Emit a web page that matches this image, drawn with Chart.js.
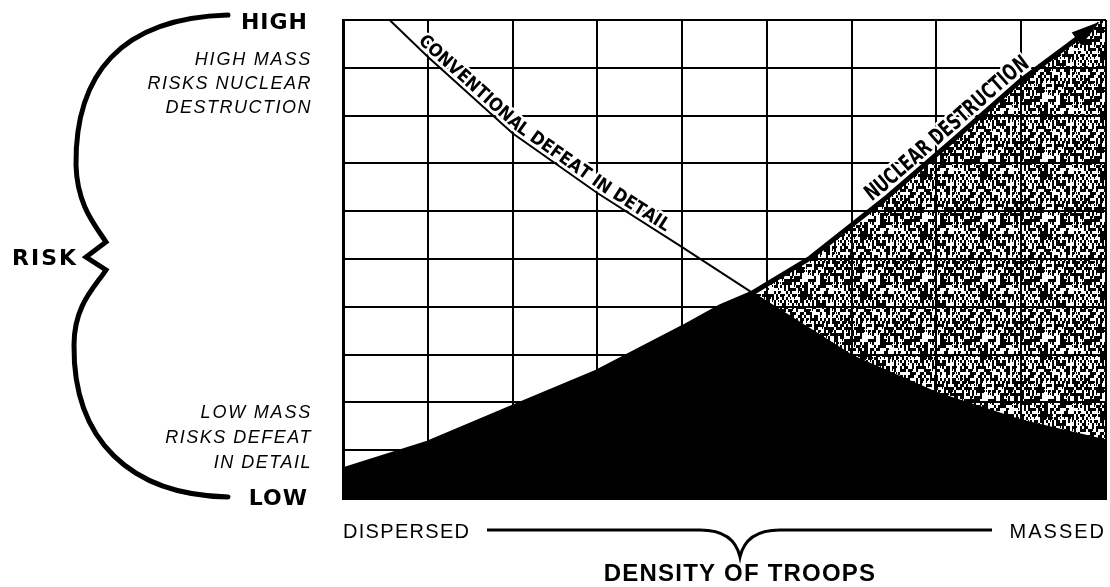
<!DOCTYPE html>
<html>
<head>
<meta charset="utf-8">
<script src="https://cdn.jsdelivr.net/npm/chart.js"></script>
<style>
  html, body { margin: 0; padding: 0; background: #fff; }
  #riskChart { display: block; }
</style>
</head>
<body>
<canvas id="riskChart" width="1110" height="587"></canvas>
<script>
// density of troops runs 0..9 (dispersed -> massed), risk 0..10 (low -> high)
var conventionalX = [0.55, 1, 2, 3, 4, 4.83, 6, 7, 8, 9];
var conventionalY = [10, 9.23, 7.63, 6.38, 5.25, 4.29, 2.98, 2.2, 1.62, 1.2];
var nuclearX = [0, 1, 2, 3, 4, 4.45, 4.83, 5.51, 6.42, 7.2, 8, 8.68];
var nuclearY = [0.59, 1.15, 1.9, 2.64, 3.56, 4.0, 4.29, 5.02, 6.3, 7.49, 8.74, 9.64];
var crossingX = 4.83;
// stippled zone reaches the top right corner past the arrow
var cornerX = [8.93, 9];
var cornerY = [10, 10];

var xTicks = [0, 1, 2, 3, 4, 5, 6, 7, 8, 9];
var yTicks = [0, 1, 2, 3, 4, 5, 6, 7, 8, 9, 10];

function toPoints(xs, ys) {
  return xs.map(function (x, i) { return { x: x, y: ys[i] }; });
}

var conventional = toPoints(conventionalX, conventionalY);
var nuclear = toPoints(nuclearX, nuclearY);
// black area = below both curves
var envelope = nuclear.filter(function (p) { return p.x <= crossingX; })
  .concat(conventional.filter(function (p) { return p.x > crossingX; }));
var stipple = nuclear.concat(toPoints(cornerX, cornerY));

// rough speckled texture for the nuclear zone
function makeStipple() {
  var c = document.createElement('canvas');
  c.width = 60; c.height = 60;
  var g = c.getContext('2d');
  g.fillStyle = '#000';
  for (var i = 0; i < 30; i++) {
    for (var j = 0; j < 20; j++) {
      var h = ((i * 7919) ^ (j * 104729) ^ (i * j * 131)) % 97;
      if (h < 50) g.fillRect(i * 2, j * 3, 2, 3);
      else if (h < 62) g.fillRect(i * 2, j * 3, 1, 2);
    }
  }
  return g.createPattern(c, 'repeat');
}

function polyline(chart, idx) {
  return chart.getDatasetMeta(idx).data.map(function (p) { return { x: p.x, y: p.y }; });
}
function distAtX(pts, px) {
  var d = 0;
  for (var i = 1; i < pts.length; i++) {
    var a = pts[i - 1], b = pts[i];
    var len = Math.hypot(b.x - a.x, b.y - a.y);
    if (px <= b.x || i === pts.length - 1) return d + len * (px - a.x) / (b.x - a.x);
    d += len;
  }
  return d;
}
function pointAt(pts, d) {
  for (var i = 1; i < pts.length; i++) {
    var a = pts[i - 1], b = pts[i];
    var len = Math.hypot(b.x - a.x, b.y - a.y);
    if (d <= len || i === pts.length - 1) {
      var t = d / len;
      return { x: a.x + (b.x - a.x) * t, y: a.y + (b.y - a.y) * t };
    }
    d -= len;
  }
}
function textAlong(ctx, pts, text, font, px0, px1, lift) {
  ctx.save();
  ctx.font = font;
  ctx.fillStyle = '#000';
  ctx.strokeStyle = '#fff';
  ctx.lineWidth = 5;
  ctx.lineJoin = 'round';
  ctx.textAlign = 'center';
  ctx.textBaseline = 'alphabetic';
  var d0 = distAtX(pts, px0), d1 = distAtX(pts, px1), L = d1 - d0;
  var chars = text.split('');
  var widths = chars.map(function (ch) { return ctx.measureText(ch).width; });
  var total = widths.reduce(function (s, w) { return s + w; }, 0);
  var sc = 1, gap = 0;
  if (total > L) sc = L / total; else gap = (L - total) / (chars.length - 1);
  var placed = [];
  var d = d0;
  chars.forEach(function (ch, i) {
    var w = widths[i] * sc;
    var mid = d + w / 2;
    var p = pointAt(pts, mid);
    var pa = pointAt(pts, mid - 6), pb = pointAt(pts, mid + 6);
    placed.push({ ch: ch, x: p.x, y: p.y, a: Math.atan2(pb.y - pa.y, pb.x - pa.x) });
    d += w + gap;
  });
  // white halo first, then the glyphs
  ['stroke', 'fill'].forEach(function (mode) {
    placed.forEach(function (q) {
      ctx.save();
      ctx.translate(q.x, q.y);
      ctx.rotate(q.a);
      ctx.translate(0, -lift);
      ctx.scale(sc, 1);
      if (mode === 'stroke') ctx.strokeText(q.ch, 0, 0); else ctx.fillText(q.ch, 0, 0);
      ctx.restore();
    });
  });
  ctx.restore();
}

function label(ctx, text, x, y, font, align, spacing) {
  ctx.font = font;
  ctx.textAlign = align;
  ctx.letterSpacing = (spacing || 0) + 'px';
  ctx.fillText(text, x, y);
  ctx.letterSpacing = '0px';
}

var decorations = {
  id: 'decorations',
  afterDatasetsDraw: function (chart) {
    var ctx = chart.ctx;
    var sx = chart.scales.x, sy = chart.scales.y;
    var area = chart.chartArea;

    // grid stays solid over the stippled zone
    ctx.save();
    ctx.strokeStyle = '#000';
    ctx.lineWidth = 2;
    ctx.beginPath();
    xTicks.forEach(function (v) {
      var px = Math.round(sx.getPixelForValue(v));
      ctx.moveTo(px, area.top); ctx.lineTo(px, area.bottom);
    });
    yTicks.forEach(function (v) {
      var py = Math.round(sy.getPixelForValue(v));
      ctx.moveTo(area.left, py); ctx.lineTo(area.right, py);
    });
    ctx.stroke();
    ctx.restore();

    // arrow head on the nuclear curve
    var np = polyline(chart, 0);
    var a = np[np.length - 2], b = np[np.length - 1];
    var len = Math.hypot(b.x - a.x, b.y - a.y);
    var ux = (b.x - a.x) / len, uy = (b.y - a.y) / len;
    ctx.save();
    ctx.fillStyle = '#000';
    ctx.beginPath();
    ctx.moveTo(b.x + ux * 26, b.y + uy * 26);
    ctx.lineTo(b.x - ux * 3 - uy * 8, b.y - uy * 3 + ux * 8);
    ctx.lineTo(b.x - ux * 3 + uy * 8, b.y - uy * 3 - ux * 8);
    ctx.closePath();
    ctx.fill();
    ctx.restore();

    // curve captions
    var cp = polyline(chart, 1);
    textAlong(ctx, cp, 'CONVENTIONAL DEFEAT IN DETAIL', 'bold 18px "DejaVu Sans Condensed", "DejaVu Sans"',
      sx.getPixelForValue(0.85), sx.getPixelForValue(3.78), 4);
    textAlong(ctx, np, 'NUCLEAR DESTRUCTION', 'bold 22px "DejaVu Sans Condensed", "DejaVu Sans"',
      sx.getPixelForValue(6.28), sx.getPixelForValue(8.15), 6);
  },
  afterDraw: function (chart) {
    var ctx = chart.ctx;
    ctx.save();
    ctx.fillStyle = '#000';
    ctx.strokeStyle = '#000';
    ctx.lineCap = 'round';
    ctx.lineJoin = 'miter';

    // risk brace
    ctx.lineWidth = 5;
    ctx.beginPath();
    ctx.moveTo(228, 15);
    ctx.bezierCurveTo(120, 18, 75, 75, 76, 165);
    ctx.bezierCurveTo(77, 205, 95, 225, 106, 242);
    ctx.lineTo(86, 257);
    ctx.lineTo(106, 270);
    ctx.bezierCurveTo(95, 287, 74, 305, 74, 345);
    ctx.bezierCurveTo(73, 440, 130, 495, 228, 497);
    ctx.stroke();

    ctx.textBaseline = 'alphabetic';
    label(ctx, 'HIGH', 308, 29, 'bold 22px "DejaVu Sans"', 'right', 1);
    label(ctx, 'LOW', 308, 505, 'bold 22px "DejaVu Sans"', 'right', 1);
    label(ctx, 'RISK', 12, 265, 'bold 22px "DejaVu Sans"', 'left', 2);

    var it = 'italic 18px "Liberation Sans"';
    label(ctx, 'HIGH MASS', 312, 65, it, 'right', 1.8);
    label(ctx, 'RISKS NUCLEAR', 312, 89, it, 'right', 1.5);
    label(ctx, 'DESTRUCTION', 312, 113, it, 'right', 1.5);
    label(ctx, 'LOW MASS', 312, 418, it, 'right', 1.8);
    label(ctx, 'RISKS DEFEAT', 312, 443, it, 'right', 1.5);
    label(ctx, 'IN DETAIL', 312, 468, it, 'right', 1.5);

    // density axis
    label(ctx, 'DISPERSED', 343, 538, '20px "Liberation Sans"', 'left', 1.3);
    label(ctx, 'MASSED', 1106, 538, '20px "Liberation Sans"', 'right', 2);
    ctx.lineWidth = 3;
    ctx.lineCap = 'butt';
    ctx.beginPath();
    ctx.moveTo(487, 530);
    ctx.lineTo(700, 530);
    ctx.quadraticCurveTo(734, 530, 740, 557);
    ctx.quadraticCurveTo(746, 530, 780, 530);
    ctx.lineTo(992, 530);
    ctx.stroke();
    label(ctx, 'DENSITY OF TROOPS', 740, 581, 'bold 24px "Liberation Sans"', 'center', 1.2);
    ctx.restore();
  }
};

var ctxEl = document.getElementById('riskChart').getContext('2d');

new Chart(ctxEl, {
  type: 'scatter',
  data: {
    datasets: [
      {
        label: 'Nuclear destruction',
        data: nuclear,
        showLine: true,
        borderColor: '#000',
        borderWidth: 5,
        pointRadius: 0,
        fill: false,
        order: 1
      },
      {
        label: 'Conventional defeat in detail',
        data: conventional,
        showLine: true,
        borderColor: '#000',
        borderWidth: 2,
        pointRadius: 0,
        fill: false,
        order: 2
      },
      {
        label: 'Combined risk',
        data: envelope,
        showLine: true,
        borderWidth: 0,
        borderColor: 'rgba(0,0,0,0)',
        backgroundColor: '#000',
        pointRadius: 0,
        fill: 'origin',
        order: 3
      },
      {
        label: 'Nuclear zone',
        data: stipple,
        showLine: true,
        borderWidth: 0,
        borderColor: 'rgba(0,0,0,0)',
        backgroundColor: makeStipple(),
        pointRadius: 0,
        fill: 'origin',
        order: 4
      }
    ]
  },
  options: {
    responsive: false,
    animation: false,
    events: [],
    layout: { padding: { left: 343, right: 4, top: 20, bottom: 89 } },
    plugins: {
      legend: { display: false },
      tooltip: { enabled: false }
    },
    scales: {
      x: {
        type: 'linear',
        min: 0,
        max: 9,
        afterBuildTicks: function (axis) { axis.ticks = xTicks.map(function (v) { return { value: v }; }); },
        ticks: { display: false },
        grid: { color: '#000', lineWidth: 2, drawTicks: false },
        border: { color: '#000', width: 3 }
      },
      y: {
        type: 'linear',
        min: 0,
        max: 10,
        afterBuildTicks: function (axis) { axis.ticks = yTicks.map(function (v) { return { value: v }; }); },
        ticks: { display: false },
        grid: { color: '#000', lineWidth: 2, drawTicks: false },
        border: { color: '#000', width: 3 }
      }
    }
  },
  plugins: [decorations]
});
</script>
</body>
</html>
